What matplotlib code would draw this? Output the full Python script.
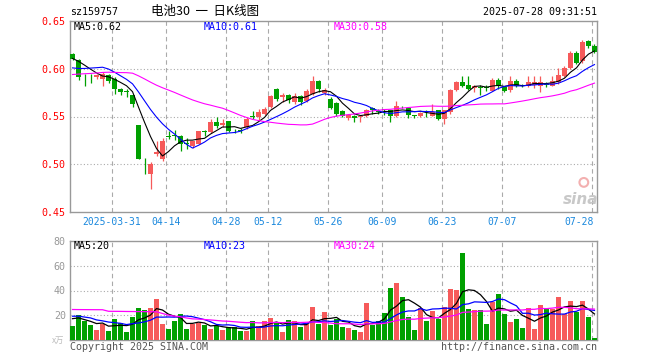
import numpy as np
import pandas as pd
import matplotlib
matplotlib.use('Agg')
import matplotlib.pyplot as plt

# daily bars, 2025-03-20 .. 2025-07-28
opens = [0.615, 0.609, 0.5925, 0.5925, 0.591, 0.589, 0.593, 0.589, 0.579, 0.576,
         0.572, 0.5406, 0.5005, 0.4903, 0.5104, 0.505, 0.5295, 0.5305, 0.530, 0.522,
         0.5187, 0.5215, 0.534, 0.5337, 0.544, 0.5406, 0.5448, 0.5357, 0.5352, 0.539,
         0.5503, 0.549, 0.553, 0.5597, 0.5788, 0.570, 0.5726, 0.5649, 0.5719, 0.5667,
         0.5736, 0.5875, 0.5747, 0.568, 0.564, 0.556, 0.5482, 0.551, 0.5493, 0.551,
         0.559, 0.5555, 0.5572, 0.5563, 0.551, 0.560, 0.559, 0.5512, 0.5503, 0.5547,
         0.551, 0.5563, 0.547, 0.5545, 0.5778, 0.5857, 0.5833, 0.580, 0.5802, 0.5802,
         0.577, 0.5885, 0.5805, 0.5778, 0.5868, 0.5825, 0.5823, 0.5833, 0.5823, 0.5835,
         0.5823, 0.5858, 0.5927, 0.6013, 0.6163, 0.6083, 0.629, 0.624]
highs = [0.617, 0.610, 0.594, 0.595, 0.595, 0.597, 0.594, 0.591, 0.580, 0.579,
         0.573, 0.541, 0.507, 0.502, 0.524, 0.5275, 0.535, 0.536, 0.531, 0.527,
         0.5245, 0.535, 0.536, 0.547, 0.550, 0.547, 0.545, 0.537, 0.538, 0.549,
         0.556, 0.558, 0.5595, 0.573, 0.580, 0.5745, 0.574, 0.575, 0.5725, 0.579,
         0.5927, 0.588, 0.5795, 0.570, 0.5655, 0.557, 0.5525, 0.552, 0.551, 0.558,
         0.5595, 0.5575, 0.558, 0.557, 0.566, 0.5615, 0.5595, 0.552, 0.5545, 0.5565,
         0.563, 0.557, 0.5565, 0.5785, 0.587, 0.5927, 0.5927, 0.5825, 0.5825, 0.5825,
         0.590, 0.590, 0.581, 0.5925, 0.589, 0.584, 0.5927, 0.5927, 0.5927, 0.586,
         0.5927, 0.601, 0.603, 0.6185, 0.6185, 0.630, 0.630, 0.6255]
lows = [0.609, 0.588, 0.582, 0.585, 0.589, 0.582, 0.585, 0.574, 0.573, 0.570,
        0.560, 0.505, 0.4896, 0.474, 0.509, 0.5035, 0.526, 0.525, 0.514, 0.516,
        0.517, 0.521, 0.530, 0.533, 0.538, 0.539, 0.5337, 0.533, 0.533, 0.537,
        0.547, 0.546, 0.5515, 0.559, 0.5665, 0.5655, 0.5645, 0.5635, 0.562, 0.565,
        0.5725, 0.576, 0.572, 0.558, 0.551, 0.5495, 0.546, 0.5445, 0.5445, 0.5495,
        0.5525, 0.553, 0.5515, 0.544, 0.550, 0.5585, 0.5485, 0.548, 0.549, 0.5495,
        0.5505, 0.546, 0.5424, 0.553, 0.577, 0.581, 0.578, 0.576, 0.5725, 0.577,
        0.5765, 0.579, 0.5755, 0.576, 0.5805, 0.5805, 0.5805, 0.5795, 0.576, 0.5805,
        0.5815, 0.5845, 0.5917, 0.5995, 0.6045, 0.6065, 0.6215, 0.6165]
closes = [0.610, 0.591, 0.592, 0.592, 0.593, 0.594, 0.587, 0.579, 0.5755, 0.5755,
          0.563, 0.5059, 0.500, 0.5007, 0.5128, 0.524, 0.529, 0.530, 0.5215, 0.5215,
          0.5243, 0.5347, 0.5337, 0.544, 0.5396, 0.543, 0.5347, 0.5354, 0.535, 0.5476,
          0.550, 0.5545, 0.558, 0.5719, 0.5684, 0.573, 0.5677, 0.5719, 0.565, 0.5764,
          0.5875, 0.5788, 0.5778, 0.559, 0.553, 0.551, 0.5517, 0.5486, 0.5507, 0.557,
          0.5563, 0.5552, 0.557, 0.551, 0.5615, 0.5597, 0.552, 0.551, 0.5535, 0.5545,
          0.5552, 0.5476, 0.5563, 0.5778, 0.5865, 0.5823, 0.5788, 0.5823, 0.580, 0.580,
          0.5885, 0.5823, 0.5764, 0.5875, 0.5823, 0.5823, 0.5857, 0.5857, 0.5857, 0.583,
          0.5868, 0.5937, 0.6013, 0.6169, 0.6059, 0.6284, 0.624, 0.618]
volumes = [11.2, 20.0, 15.2, 12.0, 8.0, 13.3, 7.5, 16.8, 13.9, 6.7,
           18.7, 25.6, 24.0, 25.9, 32.8, 12.8, 8.8, 15.5, 20.8, 8.8,
           13.3, 13.9, 12.0, 8.8, 11.0, 8.0, 10.4, 10.4, 7.3, 7.3,
           15.2, 11.2, 15.2, 17.7, 13.5, 6.7, 16.0, 15.2, 10.7, 13.3,
           26.6, 12.8, 22.7, 12.0, 17.3, 10.7, 9.9, 8.0, 6.7, 30.0,
           12.0, 15.2, 21.9, 41.9, 45.9, 34.4, 18.7, 8.0, 25.9, 15.5,
           23.2, 16.8, 26.7, 41.1, 40.3, 69.9, 24.8, 24.0, 24.0, 12.8,
           30.7, 37.3, 20.8, 14.7, 16.8, 9.6, 25.9, 8.8, 28.0, 24.8,
           25.3, 34.4, 21.3, 31.2, 22.7, 31.2, 18.4, 1.6]

# closes / volumes of the 29 sessions before the window (for the moving averages)
pre_closes = [0.578, 0.581, 0.583, 0.579, 0.576, 0.580, 0.584, 0.582, 0.578, 0.579,
              0.590, 0.596, 0.603, 0.608, 0.605, 0.601, 0.604, 0.602, 0.600, 0.601,
              0.597, 0.592, 0.588, 0.589, 0.589, 0.606, 0.612, 0.613, 0.613]
pre_volumes = [22, 16, 13, 9, 14, 45, 18, 15, 9, 20, 27, 25, 28, 34, 55, 48, 40, 38, 36, 35,
               20, 22, 19, 24, 21, 17, 22, 19, 17]

date_idx = [7, 16, 26, 33, 43, 52, 62, 72, 87]
date_labels = ['2025-03-31', '04-14', '04-28', '05-12', '05-26', '06-09', '06-23', '07-07', '07-28']

RED = '#F65A5A'
GREEN = '#00A000'
GRID = '#aaaaaa'
MONO = 'DejaVu Sans Mono'
W, H = 660, 360

fig = plt.figure(figsize=(6.6, 3.6), dpi=100)


def ax_at(l, t, r, b):
    return fig.add_axes([l / W, 1 - b / H, (r - l) / W, (b - t) / H])


def ftext(x, y, s, **kw):
    fig.text(x / W, 1 - y / H, s, va='center', **kw)


ax = ax_at(70, 21, 597, 212)
vax = ax_at(70, 241, 597, 340)

n = len(closes)
x = np.arange(n)
o = np.array(opens)
c = np.array(closes)
cols = [RED if c[i] > o[i] else GREEN for i in range(n)]

cs = pd.Series(pre_closes + closes)
vs = pd.Series(pre_volumes + volumes)
k = len(pre_closes)

# price panel
ax.vlines(x, lows, highs, colors=cols, lw=0.9, zorder=3)
ax.bar(x, np.maximum(np.abs(c - o), 0.0007), bottom=np.minimum(o, c), width=0.78,
       color=cols, lw=0, zorder=4)
for w, col in [(5, 'black'), (10, '#0000FF'), (30, '#FF00FF')]:
    ax.plot(x, cs.rolling(w).mean().values[k:], color=col, lw=0.8, zorder=5)

# volume panel
vax.bar(x, volumes, width=0.8, color=cols, lw=0, zorder=3)
for w, col in [(5, 'black'), (10, '#0000FF'), (30, '#FF00FF')]:
    vax.plot(x, vs.rolling(w).mean().values[k:], color=col, lw=0.9, zorder=4)

for a in (ax, vax):
    a.set_xlim(-0.42, n - 0.58)
    for gi in date_idx:
        a.axvline(gi - 0.4, color=GRID, lw=0.8, ls=(0, (4, 3)), zorder=1)
    for s in a.spines.values():
        s.set_color('#999999')
        s.set_linewidth(1.0)
    a.set_xticks([])
    a.tick_params(axis='y', length=0, pad=3)

ax.set_ylim(0.45, 0.65)
for v in [0.50, 0.55, 0.60]:
    ax.axhline(v, color=GRID, lw=0.8, ls=(0, (1, 2)), zorder=1)
ax.set_yticks([0.45, 0.50, 0.55, 0.60, 0.65])
ax.set_yticklabels(['%.2f' % v for v in [0.45, 0.50, 0.55, 0.60, 0.65]],
                   color='#FF0000', fontfamily=MONO, fontsize=7.2)

vax.set_ylim(0, 80)
for v in [20, 40, 60]:
    vax.axhline(v, color=GRID, lw=0.8, ls=(0, (1, 2)), zorder=1)
vax.set_yticks([20, 40, 60, 80])
vax.set_yticklabels(['20', '40', '60', '80'], color='#999999', fontfamily=MONO, fontsize=7.2)

# date labels
for gi, lab in zip(date_idx, date_labels):
    ha = 'right' if gi == date_idx[-1] else 'center'
    xx = gi - 0.1 if ha == 'right' else gi - 0.4
    ax.text(xx, -0.052, lab, transform=ax.get_xaxis_transform(), ha=ha, va='center',
            color='#1a88dd', fontfamily=MONO, fontsize=7)

# header
ftext(70, 12, 'sz159757', ha='left', fontfamily=MONO, fontsize=7.2)
ftext(205, 12, '电池30  一  日K线图', ha='center', family=['Noto Sans CJK SC', 'DejaVu Sans'],
      fontsize=9)
ftext(597, 12, '2025-07-28 09:31:51', ha='right', fontfamily=MONO, fontsize=7.2)

# MA labels
ftext(74, 27, 'MA5:0.62', ha='left', color='black', fontfamily=MONO, fontsize=7.2)
ftext(204, 27, 'MA10:0.61', ha='left', color='#0000FF', fontfamily=MONO, fontsize=7.2)
ftext(334, 27, 'MA30:0.58', ha='left', color='#FF00FF', fontfamily=MONO, fontsize=7.2)
ftext(74, 246, 'MA5:20', ha='left', color='black', fontfamily=MONO, fontsize=7.2)
ftext(204, 246, 'MA10:23', ha='left', color='#0000FF', fontfamily=MONO, fontsize=7.2)
ftext(334, 246, 'MA30:24', ha='left', color='#FF00FF', fontfamily=MONO, fontsize=7.2)

# footer / unit / watermark
ftext(64, 340, 'x万', ha='right', color='#bbbbbb', family=['Noto Sans CJK SC', 'DejaVu Sans'],
      fontsize=6)
ftext(70, 347, 'Copyright 2025 SINA.COM', ha='left', color='#555555', fontfamily=MONO, fontsize=7.2)
ftext(597, 347, 'http://finance.sina.com.cn', ha='right', color='#555555', fontfamily=MONO,
      fontsize=7.2)
ftext(581, 200, 'sina', ha='center', color='#c8c8c8', fontsize=11, fontweight='bold',
      style='italic')
ax.scatter([0.975], [0.155], s=40, facecolors='none', edgecolors='#f3b0b0', linewidths=1.5,
           transform=ax.transAxes, zorder=2, clip_on=False)

fig.savefig('out.png', dpi=100)
